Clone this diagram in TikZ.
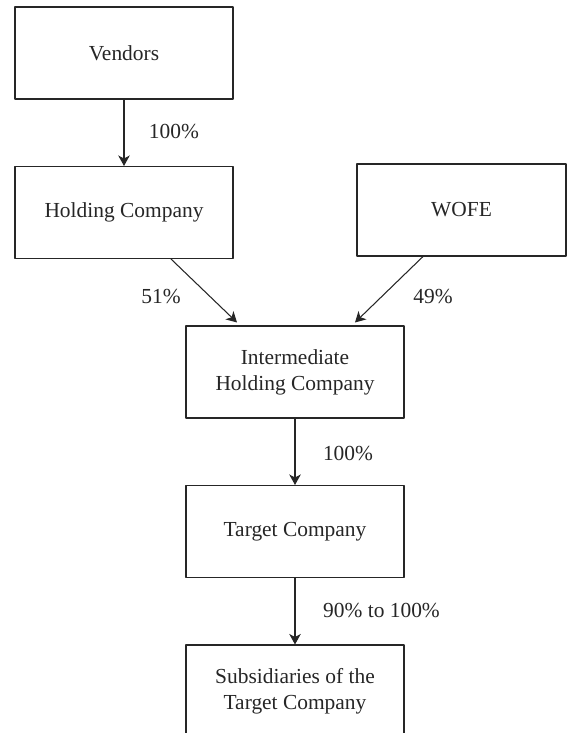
\documentclass[tikz,border=0pt]{standalone}
\usepackage{fontspec}
\setmainfont{Liberation Serif}
\usepackage{tikz}
\usetikzlibrary{arrows,positioning,shapes}
\usetikzlibrary{arrows.meta}

\tikzset{
  entity/.style={draw,rectangle,inner sep=0pt,align=center,
    minimum width=4.36cm,minimum height=1.84cm,
    font=\fontsize{12.2}{14.7}\selectfont},
  pct/.style={inner sep=0pt,font=\fontsize{12.2}{14.7}\selectfont}
}

\begin{document}
\begin{tikzpicture}[>={Stealth[length=2.1mm,width=2.3mm,inset=0.6mm]},line join=bevel,
    x=0.02cm,y=-0.02cm,line width=0.6pt,color=black!85]
  \useasboundingbox (0,0) rectangle (567,733);
  \clip (0,0) rectangle (567,733);
%%
  % Node: Vendors
  \node[entity] (vend) at (124,53) {Vendors};
  % Node: Holding
  \node[entity] (hold) at (124,212.5) {Holding Company};
  % Node: WOFE
  \node[entity,minimum width=4.18cm] (wofe) at (461.5,210) {WOFE};
  % Node: Intermediate
  \node[entity] (inter) at (295,372) {Intermediate\\Holding Company};
  % Node: Target
  \node[entity] (target) at (295,531.5) {Target Company};
  % Node: Subsidiaries
  \node[entity] (subs) at (295,691) {Subsidiaries of the\\Target Company};
%
  % Edge: vend -> hold
  \draw [->] (vend) -- (hold);
  \node[pct] (p1) at (174,132) {100\%};
  % Edge: hold -> inter
  \draw [->] ([xshift=0.94cm]hold.south) -- ([xshift=-1.16cm,yshift=0.06cm]inter.north);
  \node[pct] (p2) at (161,297) {51\%};
  % Edge: wofe -> inter
  \draw [->] ([xshift=-0.77cm]wofe.south) -- ([xshift=1.2cm,yshift=0.06cm]inter.north);
  \node[pct] (p3) at (433,297) {49\%};
  % Edge: inter -> target
  \draw [->] (inter) -- (target);
  \node[pct] (p4) at (348,454) {100\%};
  % Edge: target -> subs
  \draw [->] (target) -- (subs);
  \node[pct] (p5) at (381.5,611) {90\% to 100\%};
%
\end{tikzpicture}
\end{document}
